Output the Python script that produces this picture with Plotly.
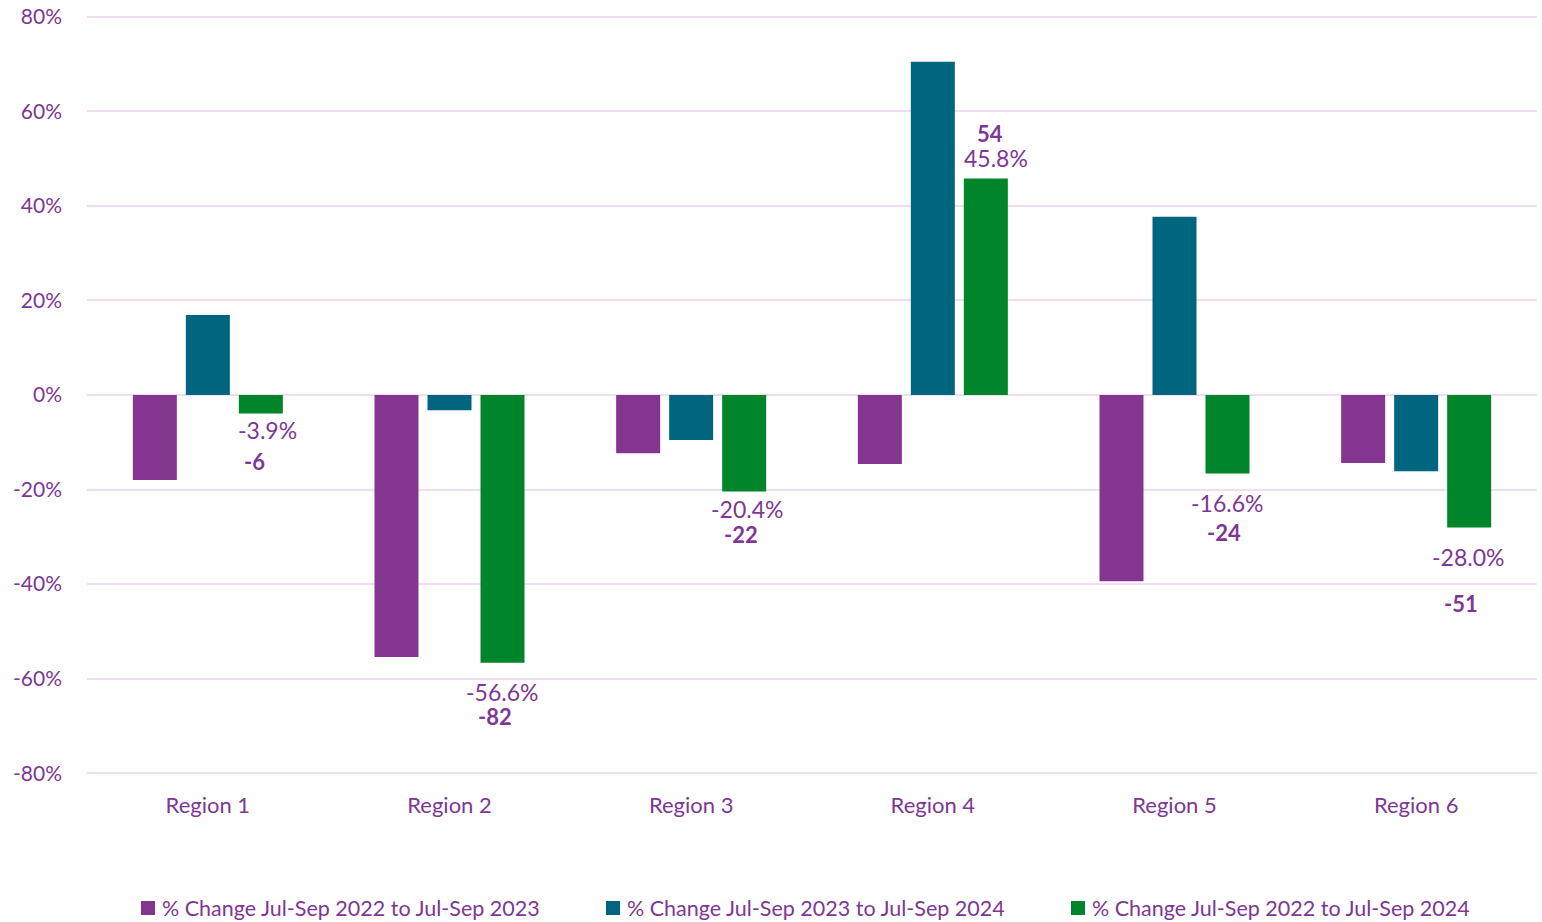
import plotly.graph_objects as go

regions = ["Region 1", "Region 2", "Region 3", "Region 4", "Region 5", "Region 6"]
series_names = [
    "% Change Jul-Sep 2022 to Jul-Sep 2023",
    "% Change Jul-Sep 2023 to Jul-Sep 2024",
    "% Change Jul-Sep 2022 to Jul-Sep 2024",
]
chg_22_23 = [-18.0, -55.4, -12.3, -14.6, -39.4, -14.4]
chg_23_24 = [16.9, -3.2, -9.5, 70.5, 37.7, -16.1]
chg_22_24 = [-3.9, -56.6, -20.4, 45.8, -16.6, -28.0]
counts_22_24 = [-6, -82, -22, 54, -24, -51]
y_ticks = [-80, -60, -40, -20, 0, 20, 40, 60, 80]

colors = ["#84358F", "#00657F", "#00852A"]
text_color = "#7E3794"
grid_color = "#F0DDF2"
FONT = "Lato"

# label offsets in pixels relative to bar end (layout only)
pct_shift = [-17, -29, -18, 20, -30, -30]
cnt_shift = [-48, -54, -43, 45, -59, -76]
pct_dx = [7, -1, 3, 10, -1, -1]
cnt_dx = [-6, -8, -3, 4, -4, -8]

fig = go.Figure()
for name, vals, col in zip(series_names, [chg_22_23, chg_23_24, chg_22_24], colors):
    fig.add_trace(go.Bar(x=regions, y=vals, name=name, marker_color=col,
                         marker_line_width=0, showlegend=False))

ann = []
for i, r in enumerate(regions):
    v = chg_22_24[i]
    ann.append(dict(x=r, y=v, xref="x", yref="y", text=f"{v:.1f}%", showarrow=False,
                    xshift=53 + pct_dx[i], yshift=pct_shift[i],
                    font=dict(family=FONT, size=23, color=text_color)))
    ann.append(dict(x=r, y=v, xref="x", yref="y", text=f"<b>{counts_22_24[i]}</b>", showarrow=False,
                    xshift=53 + cnt_dx[i], yshift=cnt_shift[i],
                    font=dict(family=FONT, size=22, color=text_color)))

# manual legend (square swatch + text), positions in paper px
W, H = 1542, 922
ML, MR, MT, MB = 87, 5, 12, 144
pw, ph = W - ML - MR, H - MT - MB
legend_x = [141, 606, 1071]
legend_y = 908
shapes = []
for name, col, lx in zip(series_names, colors, legend_x):
    x0 = (lx - ML) / pw
    x1 = (lx + 14 - ML) / pw
    y0 = (H - MB - (legend_y + 7)) / ph
    y1 = (H - MB - (legend_y - 7)) / ph
    shapes.append(dict(type="rect", xref="paper", yref="paper", x0=x0, x1=x1, y0=y0, y1=y1,
                       fillcolor=col, line_width=0))
    ann.append(dict(x=(lx + 19 - ML) / pw, y=(H - MB - legend_y) / ph, xref="paper", yref="paper",
                    xanchor="left", yanchor="middle", text=name, showarrow=False,
                    font=dict(family=FONT, size=21.5, color=text_color)))

fig.update_layout(
    width=W, height=H,
    margin=dict(l=ML, r=MR, t=MT, b=MB),
    paper_bgcolor="white", plot_bgcolor="white",
    barmode="group", bargap=0.342, bargroupgap=0.17,
    font=dict(family=FONT, color=text_color, size=20),
    annotations=ann, shapes=shapes,
    showlegend=False,
)
fig.update_yaxes(range=[-81, 81], tickvals=y_ticks,
                 ticktext=[f"{t}%" for t in y_ticks],
                 showgrid=True, gridcolor=grid_color, gridwidth=2,
                 zeroline=True, zerolinecolor=grid_color, zerolinewidth=2,
                 automargin=False,
                 ticklabelstandoff=24, tickfont=dict(family=FONT, size=21, color=text_color))
fig.update_xaxes(showline=False, ticklabelstandoff=12, automargin=False,
                 tickfont=dict(family=FONT, size=22, color=text_color))

fig.write_html("out.html", config={"displayModeBar": False},
               post_script="document.body.style.margin='0';document.body.style.overflow='hidden';")
